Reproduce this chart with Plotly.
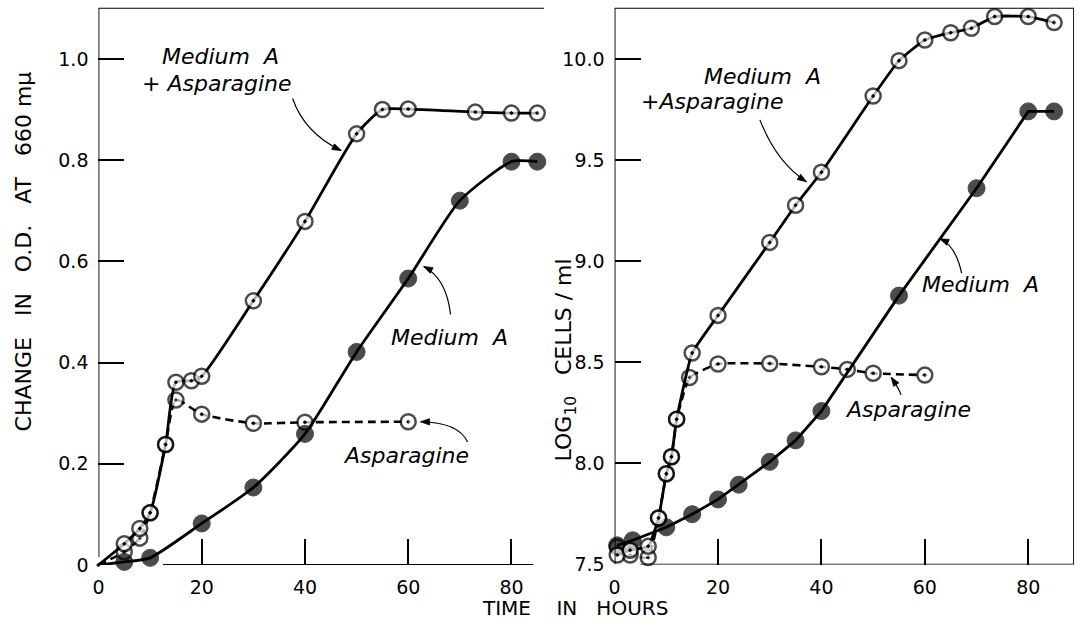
import math
import plotly.graph_objects as go

# ---------------- data ----------------
# Left panel: change in O.D. at 660 mu
od_medasp_t = [0, 5, 8, 10, 13, 15, 18, 20, 30, 40, 50, 55, 60, 73, 80, 85]
od_medasp_v = [0, 0.042, 0.072, 0.103, 0.238, 0.361, 0.364, 0.373, 0.522, 0.679, 0.852, 0.900, 0.901, 0.895, 0.893, 0.893]
od_asp_t = [0, 5, 8, 10, 13, 15, 20, 30, 40, 60]
od_asp_v = [0, 0.026, 0.053, 0.103, 0.238, 0.326, 0.298, 0.280, 0.282, 0.283]
od_meda_t = [0, 5, 10, 20, 30, 40, 50, 60, 70, 80, 85]
od_meda_v = [0, 0.006, 0.014, 0.082, 0.153, 0.259, 0.421, 0.566, 0.720, 0.797, 0.797]

# Right panel: log10 cells / ml
lc_medasp_t = [0.5, 3, 6.5, 8.5, 10, 11, 12, 15, 20, 30, 35, 40, 50, 55, 60, 65, 69, 73.5, 80, 85]
lc_medasp_v = [7.547, 7.571, 7.590, 7.730, 7.949, 8.033, 8.219, 8.546, 8.732, 9.093, 9.277, 9.440,
               9.817, 9.992, 10.094, 10.13, 10.152, 10.21, 10.21, 10.18]
lc_asp_t = [0.5, 3, 6.5, 8.5, 10, 11, 12, 14.5, 20, 30, 40, 45, 50, 60]
lc_asp_v = [7.587, 7.547, 7.535, 7.730, 7.949, 8.033, 8.219, 8.425, 8.492, 8.494, 8.478, 8.465, 8.446, 8.437]
lc_meda_t = [0.5, 3.5, 10, 15, 20, 24, 30, 35, 40, 55, 70, 80, 85]
lc_meda_v = [7.595, 7.62, 7.684, 7.749, 7.822, 7.895, 8.008, 8.114, 8.259, 8.83, 9.361, 9.741, 9.741]

x_ticks = [0, 20, 40, 60, 80]
x_tick_text = ["0", "20", "40", "60", "80"]
od_ticks = [0, 0.2, 0.4, 0.6, 0.8, 1.0]
od_tick_text = ["0", "0.2", "0.4", "0.6", "0.8", "1.0"]
lc_ticks = [7.5, 8.0, 8.5, 9.0, 9.5, 10.0]
lc_tick_text = ["7.5", "8.0", "8.5", "9.0", "9.5", "10.0"]

LX_MAX = 86.3
LY_MAX = 1.101
RX_MAX = 88.85
RY_MIN, RY_MAX = 7.5, 10.253

# pixel geometry of the two panels (figure is 1079 x 629)
W, H = 1079, 629
L_PX = (93, 541, 8, 575)      # left, right, top, bottom
R_PX = (612, 1074, 8, 574.6)

NB = "\u00a0"
FONT = "DejaVu Sans"

fig = go.Figure()

open_marker = dict(symbol="circle-dot", size=15, color="white", line=dict(color="black", width=2.5))
filled_marker = dict(symbol="circle", size=17, color="black", line=dict(color="black", width=1))

def add_series(t, v, xa, ya, marker, dash, origin_hidden=False, shape="spline", smoothing=0.6):
    sizes = [marker["size"]] * len(t)
    if origin_hidden:
        sizes[0] = 0
    m = dict(marker)
    m["size"] = sizes
    line = dict(color="black", width=2.8 if dash == "solid" else 2.6, dash=dash, shape=shape)
    if shape == "spline":
        line["smoothing"] = smoothing
    fig.add_trace(go.Scatter(
        x=t, y=v, xaxis=xa, yaxis=ya, mode="lines+markers",
        line=line, marker=m, cliponaxis=False, showlegend=False, hoverinfo="skip"))

DASH = "8px,5px"
add_series(od_asp_t, od_asp_v, "x", "y", open_marker, DASH, True)
add_series(od_medasp_t, od_medasp_v, "x", "y", open_marker, "solid", True)
add_series(od_meda_t, od_meda_v, "x", "y", filled_marker, "solid", True)

add_series(lc_asp_t, lc_asp_v, "x2", "y2", open_marker, DASH, smoothing=0.4)
add_series(lc_meda_t, lc_meda_v, "x2", "y2", filled_marker, "solid", shape="linear")
add_series(lc_medasp_t, lc_medasp_v, "x2", "y2", open_marker, "solid", smoothing=0.4)

ax_common = dict(showgrid=False, zeroline=False, showline=False, ticks="inside", ticklen=26,
                 tickwidth=1.6, tickcolor="black", ticklabelstandoff=9,
                 tickfont=dict(family=FONT, size=19, color="black"))

fig.update_layout(
    autosize=True, margin=dict(l=0, r=0, t=0, b=0),
    paper_bgcolor="white", plot_bgcolor="white",
    xaxis=dict(domain=[L_PX[0] / W, L_PX[1] / W], range=[0, LX_MAX], tickvals=x_ticks,
               ticktext=x_tick_text, anchor="y", **ax_common),
    yaxis=dict(domain=[1 - L_PX[3] / H, 1 - L_PX[2] / H], range=[0, LY_MAX], tickvals=od_ticks,
               ticktext=od_tick_text, anchor="x", **ax_common),
    xaxis2=dict(domain=[R_PX[0] / W, R_PX[1] / W], range=[0, RX_MAX], tickvals=x_ticks,
                ticktext=x_tick_text, anchor="y2", **ax_common),
    yaxis2=dict(domain=[1 - R_PX[3] / H, 1 - R_PX[2] / H], range=[RY_MIN, RY_MAX], tickvals=lc_ticks,
                ticktext=lc_tick_text, anchor="x2", **ax_common),
)

LW = 1.8
shapes = [
    # left panel frame
    dict(type="line", xref="x", yref="y", x0=0, x1=0, y0=0.015, y1=LY_MAX),
    dict(type="line", xref="x", yref="y", x0=0, x1=LX_MAX, y0=LY_MAX, y1=LY_MAX),
    dict(type="line", xref="x", yref="y", x0=12.5, x1=84.2, y0=0, y1=0),
    # right panel box
    dict(type="line", xref="x2", yref="y2", x0=0, x1=0, y0=RY_MIN, y1=RY_MAX),
    dict(type="line", xref="x2", yref="y2", x0=0, x1=RX_MAX, y0=RY_MAX, y1=RY_MAX),
    dict(type="line", xref="x2", yref="y2", x0=RX_MAX, x1=RX_MAX, y0=RY_MIN, y1=RY_MAX),
    dict(type="line", xref="x2", yref="y2", x0=5, x1=RX_MAX, y0=RY_MIN, y1=RY_MIN),
]
for s in shapes:
    s["line"] = dict(color="black", width=LW)
    fig.add_shape(**s)

# pixels per data unit for each panel (used to keep arrowheads undistorted)
scale = {
    "x": (L_PX[1] - L_PX[0]) / LX_MAX, "y": (L_PX[3] - L_PX[2]) / LY_MAX,
    "x2": (R_PX[1] - R_PX[0]) / RX_MAX, "y2": (R_PX[3] - R_PX[2]) / (RY_MAX - RY_MIN),
}

# curved label pointers (quadratic paths) + filled arrowheads
pointers = [
    ("x", "y", (37.6, 0.922), (39.9, 0.854), (47.0, 0.819)),
    ("x", "y", (68.2, 0.495), (67.4, 0.567), (63.0, 0.590)),
    ("x", "y", (71.5, 0.243), (69.7, 0.282), (62.4, 0.283)),
    ("x2", "y2", (28.1, 9.699), (31.3, 9.489), (37.1, 9.393)),
    ("x2", "y2", (67.1, 8.941), (66.0, 9.077), (62.9, 9.111)),
    ("x2", "y2", (55.4, 8.339), (55.0, 8.37), (53.5, 8.426)),
]
HEAD_L, HEAD_W = 9.0, 3.2
for xr, yr, p0, pc, p1 in pointers:
    path = f"M {p0[0]},{p0[1]} Q {pc[0]},{pc[1]} {p1[0]},{p1[1]}"
    fig.add_shape(type="path", xref=xr, yref=yr, path=path,
                  line=dict(color="black", width=1.2))
    sx, sy = scale[xr], scale[yr]
    du = (p1[0] - pc[0]) * sx
    dv = (p1[1] - pc[1]) * sy
    n = math.hypot(du, dv)
    du, dv = du / n, dv / n
    bu, bv = -du * HEAD_L, -dv * HEAD_L
    pu, pv = -dv * HEAD_W, du * HEAD_W
    a = (p1[0] + (bu + pu) / sx, p1[1] + (bv + pv) / sy)
    b = (p1[0] + (bu - pu) / sx, p1[1] + (bv - pv) / sy)
    tri = f"M {p1[0]},{p1[1]} L {a[0]},{a[1]} L {b[0]},{b[1]} Z"
    fig.add_shape(type="path", xref=xr, yref=yr, path=tri, fillcolor="black",
                  line=dict(color="black", width=0.8))

lab_font = dict(family=FONT, size=22, color="black")
labels = [
    ("x", "y", 12.0, 1.004, "<i>Medium" + NB * 2 + "A</i>"),
    ("x", "y", 8.0, 0.951, "<i>+" + NB + "Asparagine</i>"),
    ("x", "y", 56.3, 0.450, "<i>Medium" + NB * 2 + "A</i>"),
    ("x", "y", 47.0, 0.217, "<i>Asparagine</i>"),
    ("x2", "y2", 17.0, 9.913, "<i>Medium" + NB * 2 + "A</i>"),
    ("x2", "y2", 4.8, 9.791, "<i>+Asparagine</i>"),
    ("x2", "y2", 59.0, 8.883, "<i>Medium" + NB * 2 + "A</i>"),
    ("x2", "y2", 44.2, 8.266, "<i>Asparagine</i>"),
]
for xr, yr, xv, yv, txt in labels:
    fig.add_annotation(x=xv, y=yv, xref=xr, yref=yr, text=txt, showarrow=False,
                       xanchor="left", yanchor="middle", font=lab_font)

fig.add_annotation(x=18 / W, y=1 - 256 / H, xref="paper", yref="paper",
                   text=("CHANGE" + NB * 3 + "IN" + NB * 3 + "O.D." + NB * 3 + "AT" + NB * 3 + "660" + NB + "m\u03bc"),
                   textangle=-90, showarrow=False, font=dict(family=FONT, size=22, color="black"),
                   xanchor="center", yanchor="middle")
fig.add_annotation(x=563 / W, y=1 - 366 / H, xref="paper", yref="paper",
                   text=("LOG<sub>10</sub>" + NB * 3 + "CELLS" + NB + "/" + NB + "ml"),
                   textangle=-90, showarrow=False, font=dict(family=FONT, size=22, color="black"),
                   xanchor="center", yanchor="middle")
fig.add_annotation(x=572 / W, y=1 - 619 / H, xref="paper", yref="paper",
                   text=("TIME" + NB * 4 + "IN" + NB * 3 + "HOURS"),
                   showarrow=False, font=dict(family=FONT, size=20, color="black"),
                   xanchor="center", yanchor="middle", borderpad=0)

post = (
    "var gd=document.getElementById('{plot_id}');"
    "document.documentElement.style.cssText='margin:0;padding:0;height:100%;overflow:hidden;';"
    "document.body.style.cssText='margin:0;padding:0;height:100%;overflow:hidden;';"
    "gd.parentElement.style.cssText='margin:0;padding:0;height:100%;width:100%;';"
    "gd.style.height='100%';gd.style.width='100%';"
    "Plotly.Plots.resize(gd);"
)
fig.write_html("out.html", default_width="100%", default_height="100%",
               config={"displayModeBar": False, "responsive": True},
               post_script=post)
